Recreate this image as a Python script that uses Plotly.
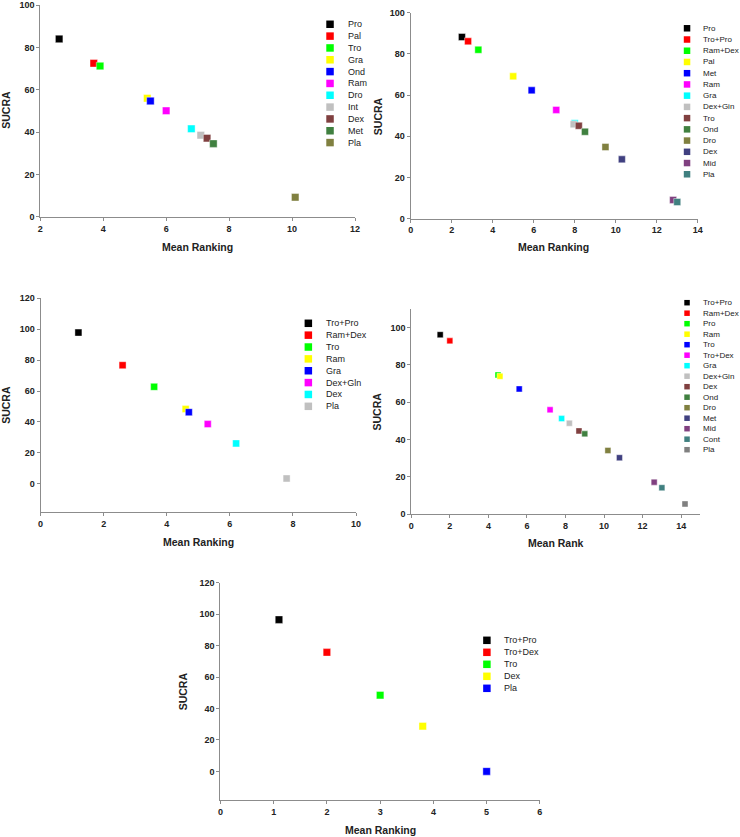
import plotly.graph_objects as go

W, H = 740, 837

# ---------------- data ----------------
p1_names = ["Pro", "Pal", "Tro", "Gra", "Ond", "Ram", "Dro", "Int", "Dex", "Met", "Pla"]
p1_rank = [2.6, 3.7, 3.9, 5.4, 5.5, 6.0, 6.8, 7.1, 7.3, 7.5, 10.1]
p1_sucra = [84.0, 72.5, 71.2, 56.0, 54.7, 50.1, 41.6, 38.6, 37.2, 34.6, 9.3]

p2_names = ["Pro", "Tro+Pro", "Ram+Dex", "Pal", "Met", "Ram", "Gra", "Dex+Gin", "Tro",
            "Ond", "Dro", "Dex", "Mid", "Pla"]
p2_rank = [2.5, 2.8, 3.3, 5.0, 5.9, 7.1, 8.0, 7.95, 8.2, 8.5, 9.5, 10.3, 12.8, 13.0]
p2_sucra = [88.2, 86.1, 82.0, 69.1, 62.3, 52.8, 46.3, 45.8, 45.1, 42.2, 34.8, 28.8, 9.1, 8.1]

p3_names = ["Tro+Pro", "Ram+Dex", "Tro", "Ram", "Gra", "Dex+Gln", "Dex", "Pla"]
p3_rank = [1.2, 2.6, 3.6, 4.6, 4.7, 5.3, 6.2, 7.8]
p3_sucra = [97.8, 76.7, 62.7, 48.3, 46.3, 38.6, 26.1, 3.4]

p4_names = ["Tro+Pro", "Ram+Dex", "Pro", "Ram", "Tro", "Tro+Dex", "Gra", "Dex+Gin", "Dex",
            "Ond", "Dro", "Met", "Mid", "Cont", "Pla"]
p4_rank = [1.5, 2.0, 4.5, 4.6, 5.6, 7.2, 7.8, 8.2, 8.7, 9.0, 10.2, 10.8, 12.6, 13.0, 14.2]
p4_sucra = [96.2, 92.9, 74.6, 73.9, 67.1, 55.9, 51.2, 48.7, 44.6, 43.0, 34.1, 30.2, 17.1, 14.1, 5.4]

p5_names = ["Tro+Pro", "Tro+Dex", "Tro", "Dex", "Pla"]
p5_rank = [1.1, 2.0, 3.0, 3.8, 5.0]
p5_sucra = [96.5, 75.7, 48.5, 28.8, 0.0]

palette = ["#000000", "#ff0000", "#00ff00", "#ffff00", "#0000ff", "#ff00ff", "#00ffff",
           "#c0c0c0", "#804040", "#408040", "#808040", "#404080", "#804080", "#408080", "#808080"]

p1_colors = palette[:11]
p2_colors = palette[:14]
p3_colors = palette[:8]
p4_colors = palette
p5_colors = palette[:5]

# ---------------- layout spec (pixels) ----------------
panels = [
    dict(names=p1_names, x=p1_rank, y=p1_sucra, colors=p1_colors,
         px=(41, 356), py=(4, 217), xr=[2, 12], yr=[0, 100],
         xt=list(range(2, 13, 2)), yt=list(range(0, 101, 20)),
         xtitle="Mean Ranking", xtpos=(198.5, 247.3), ytpos=(6.5, 110),
         msize=7.5, leg=(331, 347, 24.3, 11.83, 7.5, 9)),
    dict(names=p2_names, x=p2_rank, y=p2_sucra, colors=p2_colors,
         px=(411.7, 699), py=(12.7, 218.7), xr=[0, 14], yr=[0, 100],
         xt=list(range(0, 15, 2)), yt=list(range(0, 101, 20)),
         xtitle="Mean Ranking", xtpos=(555, 247.3), ytpos=(378.5, 115.7),
         msize=7, leg=(688.3, 702.7, 28.3, 11.23, 6.5, 8)),
    dict(names=p3_names, x=p3_rank, y=p3_sucra, colors=p3_colors,
         px=(41.3, 357), py=(298.3, 512), xr=[0, 10], yr=[-18.3, 120],
         xt=list(range(0, 11, 2)), yt=list(range(0, 121, 20)),
         xtitle="Mean Ranking", xtpos=(199, 542.3), ytpos=(6.5, 405),
         msize=7, leg=(309.3, 325, 323.3, 11.86, 7.5, 9)),
    dict(names=p4_names, x=p4_rank, y=p4_sucra, colors=p4_colors,
         px=(412.3, 701.7), py=(309, 514), xr=[0, 15], yr=[0, 110],
         xt=list(range(0, 15, 2)), yt=list(range(0, 101, 20)),
         xtitle="Mean Rank", xtpos=(557, 543.3), ytpos=(379, 411.5),
         msize=6, leg=(688.3, 702.7, 302.7, 10.5, 5.5, 8)),
    dict(names=p5_names, x=p5_rank, y=p5_sucra, colors=p5_colors,
         px=(221.3, 541), py=(582.7, 799.7), xr=[0, 6], yr=[-18, 120],
         xt=list(range(0, 7, 1)), yt=list(range(0, 121, 20)),
         xtitle="Mean Ranking", xtpos=(381.2, 830), ytpos=(184, 691.2),
         msize=7.5, leg=(488, 503.3, 640.3, 12, 7.5, 9)),
]

FONT = "Liberation Sans, Arial, sans-serif"
AXIS_COLOR = "#8c8c8c"

# small correction for the slight shrink observed in the rendered page
CX, CY = W / 2, H / 2
KX, KY = 1 / 0.99, 1 / 0.988


def clamp(v):
    return max(0.0, min(1.0, v))


def fx(px):
    return clamp((CX + (px - CX) * KX) / W)


def fy(py):
    return clamp(1 - (CY + (py - CY) * KY) / H)


fig = go.Figure()
layout = dict(
    width=W, height=H, margin=dict(l=0, r=0, t=0, b=0),
    paper_bgcolor="white", plot_bgcolor="white", showlegend=False,
    font=dict(family=FONT, color="#222222"),
)
shapes = []
annotations = []

for i, p in enumerate(panels, start=1):
    xa = "xaxis" if i == 1 else f"xaxis{i}"
    ya = "yaxis" if i == 1 else f"yaxis{i}"
    xref = "x" if i == 1 else f"x{i}"
    yref = "y" if i == 1 else f"y{i}"
    common = dict(
        showgrid=False, zeroline=False, showline=True, linecolor=AXIS_COLOR, linewidth=1,
        ticks="outside", ticklen=3, tickcolor=AXIS_COLOR, tickwidth=1,
        tickfont=dict(family=FONT, size=9, color="#222222", weight="bold"),
        fixedrange=True,
    )
    layout[xa] = dict(common, domain=[fx(p["px"][0]), fx(p["px"][1])], range=p["xr"],
                      tickvals=p["xt"], anchor=yref)
    layout[ya] = dict(common, domain=[fy(p["py"][1]), fy(p["py"][0])], range=p["yr"],
                      tickvals=p["yt"], anchor=xref)

    for name, xv, yv, col in zip(p["names"], p["x"], p["y"], p["colors"]):
        fig.add_trace(go.Scatter(
            x=[xv], y=[yv], mode="markers", name=name, xaxis=xref, yaxis=yref,
            marker=dict(symbol="square", size=p["msize"], color=col,
                        line=dict(width=0.6, color="rgba(255,255,255,0.7)")),
        ))

    # axis titles
    annotations.append(dict(
        text="<b>" + p["xtitle"] + "</b>", xref="paper", yref="paper",
        x=fx(p["xtpos"][0]), y=fy(p["xtpos"][1]), xanchor="center", yanchor="middle",
        showarrow=False, font=dict(family=FONT, size=10.5, color="#222222")))
    annotations.append(dict(
        text="<b>SUCRA</b>", xref="paper", yref="paper", textangle=-90,
        x=fx(p["ytpos"][0]), y=fy(p["ytpos"][1]), xanchor="center", yanchor="middle",
        showarrow=False, font=dict(family=FONT, size=10.5, color="#222222")))

    # legend (swatch + label)
    sx, tx, y0, dy, ss, fs = p["leg"]
    for k, (name, col) in enumerate(zip(p["names"], p["colors"])):
        cy = y0 + k * dy
        shapes.append(dict(
            type="rect", xref="paper", yref="paper",
            x0=fx(sx - ss / 2), x1=fx(sx + ss / 2), y0=fy(cy + ss / 2), y1=fy(cy - ss / 2),
            fillcolor=col, line=dict(width=0)))
        annotations.append(dict(
            text=name, xref="paper", yref="paper", x=fx(tx), y=fy(cy),
            xanchor="left", yanchor="middle", showarrow=False,
            font=dict(family=FONT, size=fs, color="#222222")))

layout["shapes"] = shapes
layout["annotations"] = annotations
fig.update_layout(**layout)
fig.write_html(
    "out.html",
    config={"displayModeBar": False},
    post_script="document.body.style.margin='0';document.body.style.overflow='hidden';",
)
